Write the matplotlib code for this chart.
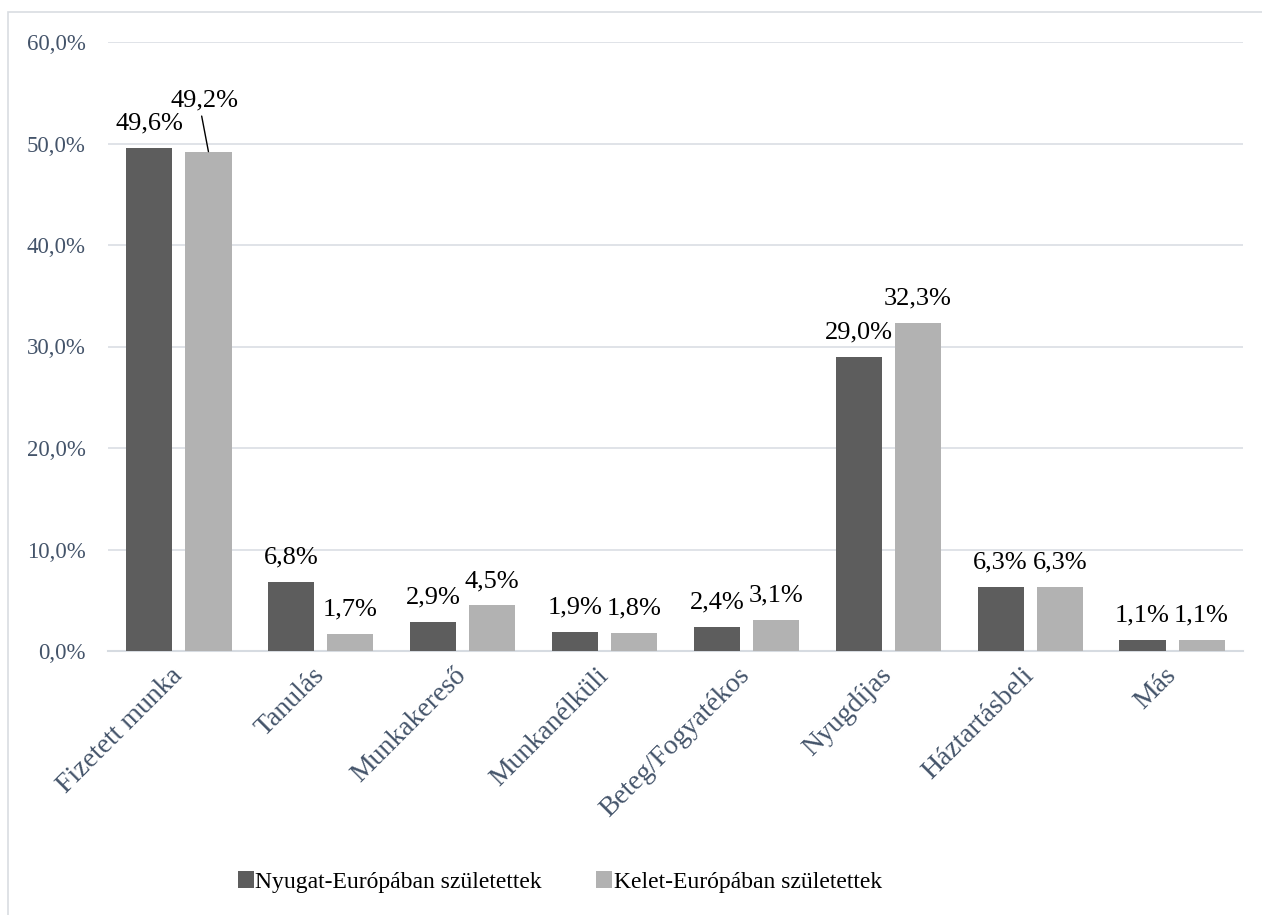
import matplotlib
matplotlib.use("Agg")
import matplotlib.pyplot as plt
import numpy as np
from matplotlib.patches import Rectangle

categories = ["Fizetett munka", "Tanulás", "Munkakereső", "Munkanélküli",
              "Beteg/Fogyatékos", "Nyugdíjas", "Háztartásbeli", "Más"]
west_born = [49.6, 6.8, 2.9, 1.9, 2.4, 29.0, 6.3, 1.1]
east_born = [49.2, 1.7, 4.5, 1.8, 3.1, 32.3, 6.3, 1.1]
series_names = ["Nyugat-Európában születettek", "Kelet-Európában születettek"]
y_ticks = [0, 10, 20, 30, 40, 50, 60]

plt.rcParams["font.family"] = ["Liberation Serif", "DejaVu Serif"]

DARK = "#5d5d5d"
LIGHT = "#b2b2b2"
AXIS_TXT = "#44546A"
GRID = "#dde1e6"

fig = plt.figure(figsize=(12.62, 9.15), dpi=100)
ax = fig.add_axes([108 / 1262, 1 - 651 / 915, (1243 - 108) / 1262, (651 - 42) / 915])

x = np.arange(len(categories))
w = 0.325
off = 0.208
b1 = ax.bar(x - off, west_born, w, color=DARK, label=series_names[0], zorder=3)
b2 = ax.bar(x + off, east_born, w, color=LIGHT, label=series_names[1], zorder=3)

ax.set_xlim(-0.5, len(categories) - 0.5)
ax.set_ylim(0, 60)
ax.set_yticks(y_ticks)
ax.set_yticklabels([f"{v:.1f}%".replace(".", ",") for v in y_ticks])
ax.grid(axis="y", color=GRID, lw=1.3, zorder=0)
for s in ["top", "right", "left"]:
    ax.spines[s].set_visible(False)
ax.spines["bottom"].set_color("#d6dbe1")
ax.spines["bottom"].set_linewidth(1.5)
ax.tick_params(axis="y", length=0, pad=16, labelsize=16.5, labelcolor=AXIS_TXT)
ax.tick_params(axis="x", length=0, pad=15, labelsize=20, labelcolor=AXIS_TXT)
ax.set_xticks(x)
ax.set_xticklabels(categories, rotation=45, ha="right", va="center",
                   rotation_mode="anchor")


def fmt(v):
    return f"{v:.1f}%".replace(".", ",")


LABEL_SIZE = 19
for i, v in enumerate(west_born):
    ax.annotate(fmt(v), (x[i] - off, v), xytext=(0, 17.5), textcoords="offset points",
                ha="center", va="center", fontsize=LABEL_SIZE, color="black")
for i, v in enumerate(east_born):
    if i == 0:
        ax.annotate(fmt(v), (x[i] + off, v), xytext=(-3, 36.5), textcoords="offset points",
                    ha="center", va="center", fontsize=LABEL_SIZE, color="black",
                    arrowprops=dict(arrowstyle="-", color="black", lw=1.0,
                                    shrinkA=1, shrinkB=0, relpos=(0.45, 0.0)))
    else:
        ax.annotate(fmt(v), (x[i] + off, v), xytext=(0, 17.5), textcoords="offset points",
                    ha="center", va="center", fontsize=LABEL_SIZE, color="black")

fig.legend(handles=[b1, b2], labels=series_names, loc="center",
           bbox_to_anchor=(560 / 1262, 1 - 882 / 915), ncol=2, frameon=False,
           fontsize=17, handlelength=0.68, handleheight=0.68, handletextpad=0.08,
           columnspacing=2.3)

# outer chart frame
fig.patches.append(Rectangle((8 / 1262, -0.1), 1.2, 1.1 - 12 / 915,
                             transform=fig.transFigure, fill=False,
                             edgecolor="#d9dde2", lw=1.2))

fig.savefig("out.png", dpi=100)
